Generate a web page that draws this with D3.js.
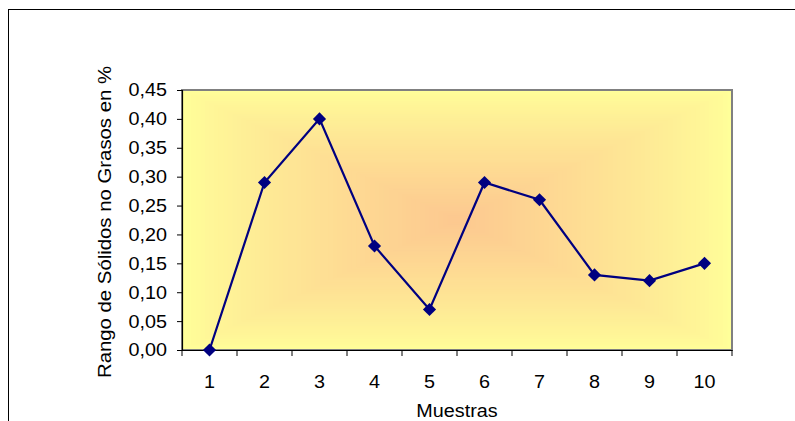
<!DOCTYPE html>
<html>
<head>
<meta charset="utf-8">
<script src="https://cdn.jsdelivr.net/npm/d3@7"></script>
<style>
  html, body { margin: 0; padding: 0; background: #fff; }
  svg { display: block; font-family: "Liberation Sans", Arial, sans-serif; }
</style>
</head>
<body>
<svg id="chart" width="795" height="421"></svg>
<script>
// Muestras 1..10 and the range of non-fat solids (%)
const categories = ["1", "2", "3", "4", "5", "6", "7", "8", "9", "10"];
const values = [0.00, 0.29, 0.40, 0.18, 0.07, 0.29, 0.26, 0.13, 0.12, 0.15];
const yTicks = [0, 0.05, 0.10, 0.15, 0.20, 0.25, 0.30, 0.35, 0.40, 0.45];

const svg = d3.select("#chart");
const plot = { left: 182, top: 90, right: 732, bottom: 350 };
const W = plot.right - plot.left, H = plot.bottom - plot.top;
const FS = 18.5;      // label font size
const SX = 1.07;      // slight horizontal widening of the label glyphs

// Outer chart frame (runs off the right and bottom edges)
svg.append("rect")
  .attr("x", 8.5).attr("y", 9.5)
  .attr("width", 900).attr("height", 500)
  .attr("fill", "#fff").attr("stroke", "#000").attr("stroke-width", 1);

const x = d3.scaleBand().domain(categories).range([plot.left, plot.right]).padding(0);
const y = d3.scaleLinear().domain([0, 0.45]).range([plot.bottom, plot.top]);

// Plot area: rectangular "from centre" fill, light orange centre to light yellow edges
const bg = svg.append("g");
const steps = 60;
const cx = plot.left + W * 0.5, cy = plot.top + H * 0.5;
const col = d3.interpolateRgb("#ffff99", "#fdc890");
for (let i = 0; i < steps; i++) {
  const t = i / steps;               // 0 = edge, 1 = centre
  const hw = (W / 2) * (1 - t), hh = (H / 2) * (1 - t);
  bg.append("rect")
    .attr("x", cx - hw).attr("y", cy - hh)
    .attr("width", hw * 2).attr("height", hh * 2)
    .attr("fill", col(Math.pow(t, 0.8)));
}

// Plot area border
svg.append("rect")
  .attr("x", plot.left).attr("y", plot.top)
  .attr("width", W).attr("height", H)
  .attr("fill", "none").attr("stroke", "#808080").attr("stroke-width", 2);

// Y axis
const yAxis = svg.append("g")
  .attr("transform", `translate(${plot.left},0)`)
  .call(d3.axisLeft(y).tickValues(yTicks).tickSize(5).tickPadding(10)
    .tickFormat(d => d3.format(".2f")(d).replace(".", ",")));
yAxis.select(".domain").attr("stroke", "#000").attr("stroke-width", 1.2);
yAxis.selectAll(".tick line").attr("stroke", "#000").attr("stroke-width", 1);
yAxis.selectAll(".tick text")
  .attr("font-size", FS).attr("fill", "#000")
  .attr("font-family", "Liberation Sans, Arial, sans-serif")
  .attr("x", -15 / SX)
  .attr("transform", `scale(${SX},1)`);

// X axis with ticks between categories
const xAxis = svg.append("g")
  .attr("transform", `translate(0,${plot.bottom})`)
  .call(d3.axisBottom(x).tickSize(0).tickPadding(25));
xAxis.select(".domain").attr("stroke", "#000").attr("stroke-width", 1.2);
xAxis.selectAll(".tick text")
  .attr("font-size", FS).attr("fill", "#000")
  .attr("font-family", "Liberation Sans, Arial, sans-serif")
  .attr("transform", `scale(${SX},1)`);
const bounds = categories.map(c => x(c)).concat([x(categories[categories.length - 1]) + x.bandwidth()]);
xAxis.selectAll(".sep").data(bounds).enter().append("line")
  .attr("class", "sep")
  .attr("x1", d => d).attr("x2", d => d)
  .attr("y1", 0).attr("y2", 6)
  .attr("stroke", "#000").attr("stroke-width", 1);

// Axis titles
svg.append("text")
  .attr("transform", `translate(${x(categories[4]) + x.bandwidth()},417) scale(${SX},1)`)
  .attr("text-anchor", "middle")
  .attr("font-size", FS)
  .text("Muestras");

svg.append("text")
  .attr("transform", `translate(111,222) rotate(-90) scale(1.1,1)`)
  .attr("text-anchor", "middle")
  .attr("font-size", FS)
  .text("Rango de Sólidos no Grasos en %");

// Series line and diamond markers
const cxOf = (d, i) => x(categories[i]) + x.bandwidth() / 2;
const line = d3.line().x(cxOf).y(d => y(d));
svg.append("path")
  .datum(values)
  .attr("d", line)
  .attr("fill", "none")
  .attr("stroke", "#000080")
  .attr("stroke-width", 2.2);

const diamond = d3.symbol().type(d3.symbolDiamond2).size(110);
svg.selectAll(".pt").data(values).enter().append("path")
  .attr("class", "pt")
  .attr("transform", (d, i) => `translate(${cxOf(d, i)},${y(d)})`)
  .attr("d", diamond)
  .attr("fill", "#000080");
</script>
</body>
</html>
